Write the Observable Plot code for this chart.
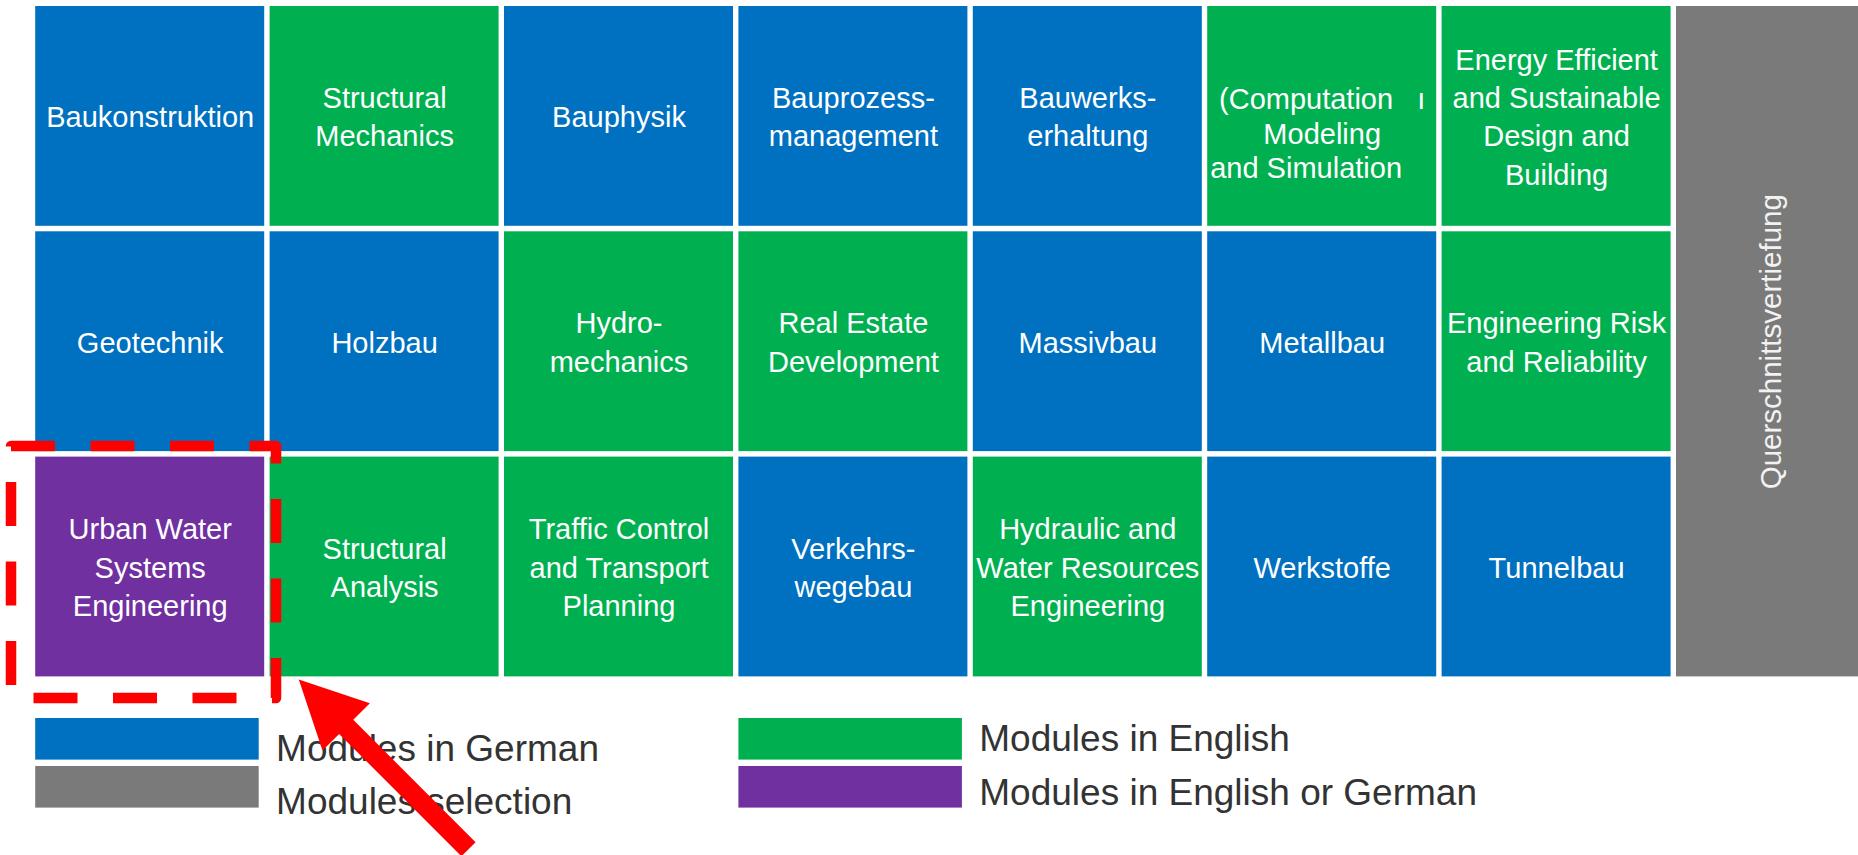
<!DOCTYPE html>
<html>
<head>
<meta charset="utf-8">
<script src="https://cdn.jsdelivr.net/npm/d3@7"></script>
<script src="https://cdn.jsdelivr.net/npm/@observablehq/plot@0.6"></script>
<style>
  html, body { margin: 0; padding: 0; background: #ffffff; overflow: hidden; }
</style>
</head>
<body>
<div id="chart"></div>
<script>
// ---------------- data ----------------
const row1Labels = [
  "Baukonstruktion",
  "Structural\nMechanics",
  "Bauphysik",
  "Bauprozess-\nmanagement",
  "Bauwerks-\nerhaltung",
  "\n(Computation\u00a0\u00a0\u00a0ı\nModeling\nand Simulation\u00a0\u00a0\u00a0\u00a0",
  "Energy Efficient\nand Sustainable\nDesign and\nBuilding"
];
const row1Langs = ["de", "en", "de", "de", "de", "en", "en"];

const row2Labels = [
  "Geotechnik",
  "Holzbau",
  "Hydro-\nmechanics",
  "Real Estate\nDevelopment",
  "Massivbau",
  "Metallbau",
  "Engineering Risk\nand Reliability"
];
const row2Langs = ["de", "de", "en", "en", "de", "de", "en"];

const row3Labels = [
  "Urban Water\nSystems\nEngineering",
  "Structural\nAnalysis",
  "Traffic Control\nand Transport\nPlanning",
  "Verkehrs-\nwegebau",
  "Hydraulic and\nWater Resources\nEngineering",
  "Werkstoffe",
  "Tunnelbau"
];
const row3Langs = ["de/en", "en", "en", "de", "en", "de", "de"];

const selectionLabel = "Querschnittsvertiefung";

const legendKeys = ["de", "sel", "en", "de/en"];
const legendLabels = ["Modules in German", "Modules selection", "Modules in English", "Modules in English or German"];

const colorKeys = ["de", "en", "de/en", "sel"];
const colorValues = ["#0070C0", "#00B050", "#7030A0", "#7A7A7A"];

// ---------------- layout ----------------
const W = 1858, H = 855;
const X0 = 35.2, COL = 234.4;   // column pitch in px
const Y0 = 6, ROW = 225.3;      // row pitch in px
const GAPX = 5.4, GAPY = 5.5;
const px2col = p => (p - X0) / COL;
const px2row = p => (p - Y0) / ROW;

const color = new Map(colorKeys.map((k, i) => [k, colorValues[i]]));
const langRows = [row1Langs, row2Langs, row3Langs];
const cells = [row1Labels, row2Labels, row3Labels].flatMap((labels, r) =>
  labels.map((label, c) => ({row: r, col: c, label, lang: langRows[r][c]})));

const compact = cells.filter(d => d.label.startsWith("\n"));
const single = cells.filter(d => !d.label.includes("\n"));
const multi = cells.filter(d => d.label.includes("\n") && !d.label.startsWith("\n"));

const nRows = 3;
const selection = [{col: row1Labels.length, label: selectionLabel, lang: "sel"}];
const xEdge = px2col(W);

const highlight = cells.filter(d => d.lang === "de/en");

const legend = legendKeys.map((k, i) => ({key: k, label: legendLabels[i], group: Math.floor(i / 2), slot: i % 2}));
const legendBoxTop = 718, legendBoxStep = 48, legendBoxH = 41.6, legendBoxW = 223.5;
const legendBaselines = [[760, 813], [750.5, 804.5]];

// annotation arrow tip (points at the highlighted module)
const arrowTip = [{x: px2col(298.3), y: px2row(679)}];
const blockArrow = {
  draw(context, l) {
    const sw = 10, hw = 33.5, hl = 67;
    context.moveTo(-sw, 0);
    context.lineTo(-sw, -(l - hl));
    context.lineTo(-hw, -(l - hl));
    context.lineTo(0, -l);
    context.lineTo(hw, -(l - hl));
    context.lineTo(sw, -(l - hl));
    context.lineTo(sw, 0);
    context.closePath();
  }
};

const cellText = {
  x: d => d.col + 0.5,
  y: d => d.row + 0.5,
  text: "label",
  fill: "white",
  fontSize: 29,
  dx: -GAPX / 2,
  lineAnchor: "middle",
  textAnchor: "middle"
};

const chart = Plot.plot({
  width: W,
  height: H,
  margin: 0,
  x: {type: "linear", domain: [0, 8], range: [X0, X0 + 8 * COL], axis: null},
  y: {type: "linear", domain: [0, nRows], range: [Y0, Y0 + nRows * ROW], axis: null},
  style: {fontFamily: "'Liberation Sans', Arial, Helvetica, sans-serif", background: "#ffffff"},
  marks: [
    // module cells
    Plot.rect(cells, {
      x1: "col", x2: d => d.col + 1, y1: "row", y2: d => d.row + 1,
      fill: d => color.get(d.lang), insetRight: GAPX, insetBottom: GAPY
    }),
    // selection column
    Plot.rect(selection, {
      x1: "col", x2: d => d.col + 1, y1: 0, y2: nRows,
      fill: d => color.get(d.lang), insetBottom: GAPY
    }),
    Plot.text(single, {...cellText, dy: -1.2}),
    Plot.text(multi, {...cellText, lineHeight: 1.325, dy: -4.3}),
    Plot.text(compact, {...cellText, lineHeight: 1.2, dy: -4}),
    Plot.text(selection, {
      x: d => (d.col + xEdge) / 2, y: nRows / 2, text: "label",
      rotate: -90, fontSize: 29.5, fill: "#f2f2f2", dx: 4, dy: -GAPY / 2,
      lineAnchor: "middle", textAnchor: "middle"
    }),
    // legend
    Plot.rect(legend, {
      x1: d => d.group * 3, x2: d => d.group * 3 + 1,
      y1: d => px2row(legendBoxTop + d.slot * legendBoxStep),
      y2: d => px2row(legendBoxTop + d.slot * legendBoxStep + legendBoxH),
      fill: d => color.get(d.key),
      insetRight: COL - legendBoxW
    }),
    Plot.text(legend, {
      x: d => d.group * 3 + 1,
      y: d => px2row(legendBaselines[d.group][d.slot]),
      text: "label", textAnchor: "start", lineAnchor: "bottom",
      fontSize: 37, fill: "#333333", dx: 6
    }),
    // highlight frame
    Plot.rect(highlight, {
      x1: "col", x2: d => d.col + 1, y1: "row", y2: d => d.row + 1,
      fill: "none", stroke: "#ff0000", strokeWidth: 10.5,
      strokeDasharray: "44 35.5", strokeLinejoin: "round",
      insetLeft: -24.2, insetRight: -6.4, insetTop: -10.6, insetBottom: -16.1
    }),
    // arrow
    Plot.vector(arrowTip, {
      x: "x", y: "y", rotate: -45, length: 240, anchor: "end",
      shape: blockArrow, fill: "#ff0000", stroke: "none"
    })
  ]
});

document.getElementById("chart").appendChild(chart);
</script>
</body>
</html>
